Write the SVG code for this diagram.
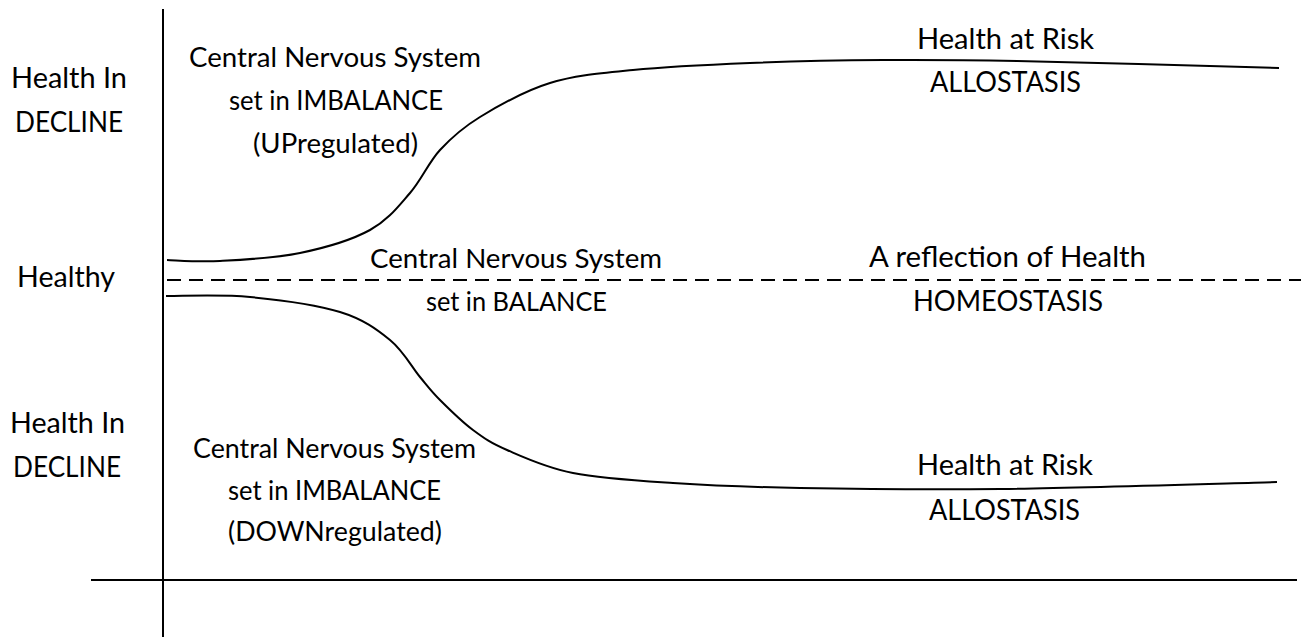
<svg xmlns="http://www.w3.org/2000/svg" width="1301" height="640" viewBox="0 0 1301 640">
  <style>
    text { font-family: Lato, "Open Sans", "Liberation Sans", sans-serif; fill: #000; text-anchor: middle; }
    .lbl { font-size: 28px; }
    .blk { font-size: 26px; }
    .mid { font-size: 26.5px; }
    .rgt { font-size: 29px; }
    .axis { stroke: #000; stroke-width: 2; fill: none; }
    .curve { stroke: #000; stroke-width: 2; fill: none; }
    .dash { stroke: #000; stroke-width: 2; fill: none; stroke-dasharray: 14 8; }
  </style>
  <rect width="1301" height="640" fill="#fff"/>

  <g id="connectors">
    <line class="axis" x1="163" y1="9" x2="163" y2="637"/>
    <line class="axis" x1="91" y1="580" x2="1297" y2="580"/>
    <line class="dash" x1="167" y1="280" x2="1301" y2="280"/>
    <path id="upper-curve" class="curve" d="M167,260 C175.8,260.2 197.8,262.2 220,261 C242.2,259.8 275,258.2 300,253 C325,247.8 351.7,240 370,230 C388.3,220 398.3,206.3 410,193 C421.7,179.7 428.3,162.7 440,150 C451.7,137.3 461.7,128.2 480,117 C498.3,105.8 524.5,90.8 550,83 C575.5,75.2 599.7,73.3 633,70 C666.3,66.7 708.3,64.7 750,63 C791.7,61.3 838.5,60.3 883,60 C927.5,59.7 951,59.7 1017,61 C1083,62.3 1235.3,66.8 1279,68"/>
    <path id="lower-curve" class="curve" d="M166,296 C180,296.2 221,294.3 250,297 C279,299.7 316.7,304.8 340,312 C363.3,319.2 376.7,329.2 390,340 C403.3,350.8 411.7,367 420,377 C428.3,387 431.2,391.2 440,400 C448.8,408.8 461.8,421.7 473,430 C484.2,438.3 490.3,442.8 507,450 C523.7,457.2 545.3,467.5 573,473 C600.7,478.5 635.2,480.5 673,483 C710.8,485.5 745.5,487 800,488 C854.5,489 920.5,490 1000,489 C1079.5,488 1230.8,483.2 1277,482"/>
  </g>

  <g id="label-decline-top">
    <text class="lbl" x="69" y="88" textLength="116" lengthAdjust="spacingAndGlyphs">Health In</text>
    <text class="lbl" x="69" y="132" textLength="108" lengthAdjust="spacingAndGlyphs">DECLINE</text>
  </g>
  <g id="label-healthy">
    <text class="lbl" x="66" y="287" textLength="98" lengthAdjust="spacingAndGlyphs">Healthy</text>
  </g>
  <g id="label-decline-bottom">
    <text class="lbl" x="67.5" y="433" textLength="115" lengthAdjust="spacingAndGlyphs">Health In</text>
    <text class="lbl" x="67" y="477" textLength="108" lengthAdjust="spacingAndGlyphs">DECLINE</text>
  </g>

  <g id="cns-upregulated">
    <text class="blk" x="335" y="67" textLength="292" lengthAdjust="spacingAndGlyphs">Central Nervous System</text>
    <text class="blk" x="336" y="110" textLength="214" lengthAdjust="spacingAndGlyphs">set in IMBALANCE</text>
    <text class="blk" x="335.5" y="153" textLength="165" lengthAdjust="spacingAndGlyphs">(UPregulated)</text>
  </g>

  <g id="cns-balance">
    <text class="mid" x="516" y="268" textLength="292" lengthAdjust="spacingAndGlyphs">Central Nervous System</text>
    <text class="mid" x="516.5" y="311" textLength="181" lengthAdjust="spacingAndGlyphs">set in BALANCE</text>
  </g>

  <g id="cns-downregulated">
    <text class="blk" x="334.5" y="458" textLength="283" lengthAdjust="spacingAndGlyphs">Central Nervous System</text>
    <text class="blk" x="334.5" y="500" textLength="213" lengthAdjust="spacingAndGlyphs">set in IMBALANCE</text>
    <text class="blk" x="335" y="541" textLength="214" lengthAdjust="spacingAndGlyphs">(DOWNregulated)</text>
  </g>

  <g id="allostasis-top">
    <text class="rgt" x="1005.5" y="49" textLength="177" lengthAdjust="spacingAndGlyphs">Health at Risk</text>
    <text class="rgt" x="1005.5" y="92" textLength="151" lengthAdjust="spacingAndGlyphs">ALLOSTASIS</text>
  </g>

  <g id="homeostasis">
    <text class="rgt" x="1007.5" y="267" textLength="277" lengthAdjust="spacingAndGlyphs">A reflection of Health</text>
    <text class="rgt" x="1008" y="311" textLength="190" lengthAdjust="spacingAndGlyphs">HOMEOSTASIS</text>
  </g>

  <g id="allostasis-bottom">
    <text class="rgt" x="1005" y="475" textLength="176" lengthAdjust="spacingAndGlyphs">Health at Risk</text>
    <text class="rgt" x="1004.5" y="520" textLength="151" lengthAdjust="spacingAndGlyphs">ALLOSTASIS</text>
  </g>
</svg>
